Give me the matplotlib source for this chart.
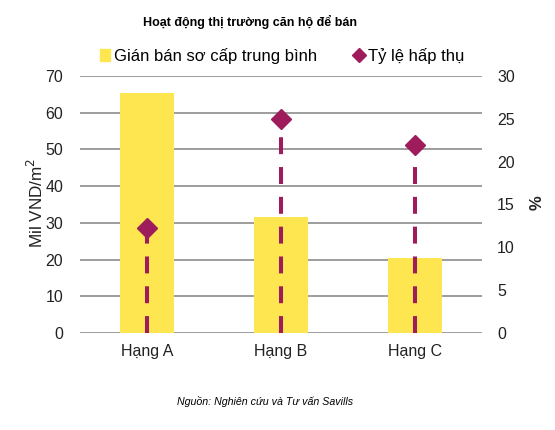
import matplotlib.pyplot as plt
from matplotlib.lines import Line2D
from matplotlib.patches import Patch

plt.rcParams['font.family'] = ['Liberation Sans', 'DejaVu Sans']

hang = ["Hạng A", "Hạng B", "Hạng C"]
gia_ban = [65.4, 31.5, 20.4]      # Mil VND/m2
ty_le = [12.2, 25, 22]            # %

mau_vang = "#FDE650"
mau_tim = "#9E1B5C"

fig = plt.figure(figsize=(5.55, 4.30), dpi=100)
ax = fig.add_axes([0.1441, 0.2256, 0.7243, 0.5977])
x = list(range(len(hang)))

ax.bar(x, gia_ban, width=0.40, color=mau_vang, zorder=2)
ax.set_ylim(0, 70)
ax.set_xlim(-0.5, 2.5)
ax.set_yticks(range(0, 71, 10))
ax.set_xticks(x)
ax.set_xticklabels(hang)
ax.grid(axis='y', color='#8c8c8c', linewidth=1.2, zorder=1)
ax.set_axisbelow(True)
ax.tick_params(axis='y', length=0, labelsize=11.5, colors='#222222', pad=12)
ax.tick_params(axis='x', length=0, labelsize=11.5, colors='#222222', pad=8)
for s in ax.spines.values():
    s.set_visible(False)

ax2 = ax.twinx()
ax2.set_ylim(0, 30)
ax2.set_yticks(range(0, 31, 5))
ax2.tick_params(length=0, labelsize=11.5, colors='#222222', pad=11)
for s in ax2.spines.values():
    s.set_visible(False)
ax2.vlines(x, 0, ty_le, colors=mau_tim, linestyles=(0, (4.2, 3.2)), linewidth=2.9, zorder=3)
ax2.plot(x, ty_le, linestyle='none', marker='D', markersize=10, color=mau_tim, zorder=4)

# nhãn trục
fig.text(35.5 / 555, 1 - 203 / 430, "Mil VND/m$^2$", rotation=90, ha='center', va='center',
         fontsize=12.3, color='#222222')
fig.text(537 / 555, 1 - 203 / 430, "%", rotation=90, ha='center', va='center',
         fontsize=12, fontweight='bold', color='#222222')

fig.text(0.45, 0.949, "Hoạt động thị trường căn hộ để bán", ha='center', va='center',
         fontsize=9, fontweight='bold')

handles = [Patch(color=mau_vang), Line2D([], [], linestyle='none', marker='D', markersize=7, color=mau_tim)]
fig.legend(handles, ["Gián bán sơ cấp trung bình", "Tỷ lệ hấp thụ"], loc='center',
           bbox_to_anchor=(0.508, 0.870), ncol=2, frameon=False, fontsize=12,
           handlelength=0.6, handletextpad=0.25, columnspacing=2.2)

fig.text(0.477, 0.067, "Nguồn: Nghiên cứu và Tư vấn Savills", ha='center', va='center',
         fontsize=7.7, style='italic')

fig.savefig("out.png", dpi=100)
